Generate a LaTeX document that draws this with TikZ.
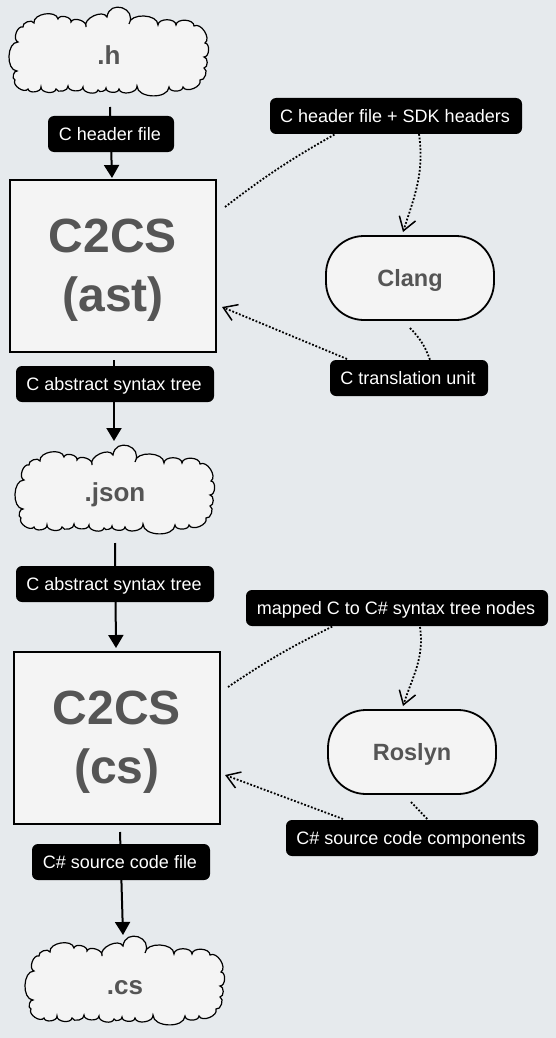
\documentclass[tikz,border=0pt]{standalone}
\usepackage{fontspec}
\setmainfont{Liberation Sans}
\usetikzlibrary{arrows.meta}
\definecolor{pagebg}{HTML}{E6EAED}
\definecolor{shapefill}{HTML}{F4F4F4}
\definecolor{shapetext}{HTML}{555555}
\tikzset{
	tag/.style={fill=black,text=white,rounded corners=6pt,minimum height=36pt,inner xsep=0pt,inner ysep=0pt,text height=13pt,text depth=0pt,font=\fontsize{18}{20}\selectfont,execute at end node={\kern2pt}},
	box/.style={draw=black,line width=1.8pt,fill=shapefill,minimum width=206pt,minimum height=172pt},
	boxtext/.style={text=shapetext,align=center,font=\fontsize{48}{59}\selectfont\bfseries},
	pill/.style={draw=black,line width=1.8pt,fill=shapefill,text=shapetext,rounded corners=38pt,minimum width=168pt,minimum height=84pt,text height=16pt,text depth=0pt,font=\fontsize{23.5}{26}\selectfont\bfseries},
	blobtext/.style={text=shapetext,font=\fontsize{26}{28}\selectfont\bfseries},
	flow/.style={line width=2pt,-{Triangle[length=13pt,width=15pt]}},
	hint/.style={line width=1.8pt,dash pattern=on 1.8pt off 1.8pt},
	hintarrow/.style={hint,-{Straight Barb[length=13pt,width=17pt,line width=1.5pt]}},
	blob/.pic={
		\draw[line width=1.2pt,fill=shapefill,bend left=88] (-24,-26) to (-3,-36) to[bend left=100,looseness=2] (19,-29) to (48,-28) to (66,-28) to (84,-27) to (95,-10) to (94,4) to (94,15) to (90,27) to (73,34) to (59,34) to (27,33) to (9,36) to (-4,35) to (-12,37) to (-27,34) to (-42,33) to (-54,36) to (-69,34) to (-82,36) to (-95,27) to (-93,18) to (-92,-11) to (-87,-26) to (-76,-30) to (-52,-34) to (-39,-31) to cycle;
	}
}
\begin{document}
\begin{tikzpicture}[x=1pt,y=-1pt]
	\fill[pagebg] (0,0) rectangle (556,1038);
	\useasboundingbox (0,0) rectangle (556,1038);
	\coordinate (h1) at (110,107);
	\coordinate (h2) at (112,178);
	\coordinate (a1) at (114,360);
	\coordinate (a2) at (114,441);
	\coordinate (j1) at (115,543);
	\coordinate (j2) at (116,648);
	\coordinate (c1) at (120,832);
	\coordinate (c2) at (123,935);
	\draw[flow] (h1) -- (h2);
	\draw[flow] (a1) -- (a2);
	\draw[flow] (j1) -- (j2);
	\draw[flow] (c1) -- (c2);
	\pic at (110,53) {blob};
	\pic at (116,491) {blob};
	\pic at (126,982) {blob};
	\node[blobtext] (h) at (109,55) {.h};
	\node[blobtext] (json) at (115,495) {.json};
	\node[blobtext] (cs) at (125,988) {.cs};
	\node[box] (ast) at (113,266) {};
	\node[boxtext] (asttext) at (113,270) {C2CS\\(ast)};
	\node[box] (csbox) at (117,738) {};
	\node[boxtext] (cstext) at (117,742) {C2CS\\(cs)};
	\node[pill] (clang) at (410,278) {Clang};
	\node[pill] (roslyn) at (412,752) {Roslyn};
	\node[tag,minimum width=126pt] (hfile) at (111,134) {C header file};
	\node[tag,minimum width=252pt] (sdk) at (396,116) {C header file + SDK headers};
	\node[tag,minimum width=158pt] (unit) at (409,378) {C translation unit};
	\node[tag,minimum width=198pt] (tree) at (115,384) {C abstract syntax tree};
	\node[tag,minimum width=198pt] (tree2) at (115,584) {C abstract syntax tree};
	\node[tag,minimum width=302pt] (mapped) at (397,608) {mapped C to C\# syntax tree nodes};
	\node[tag,minimum width=252pt] (parts) at (412,838) {C\# source code components};
	\node[tag,minimum width=178pt] (csfile) at (121,862) {C\# source code file};
	% dotted calls on the right
	\coordinate (s1) at (225,207);
	\coordinate (s2) at (419,134);
	\coordinate (s3) at (403,232);
	\coordinate (u1) at (410,328);
	\coordinate (u2) at (347,359);
	\coordinate (u3) at (222,307);
	\coordinate (m1) at (228,687);
	\coordinate (m2) at (420,627);
	\coordinate (m3) at (403,706);
	\coordinate (r1) at (411,802);
	\coordinate (r2) at (343,819);
	\coordinate (r3) at (225,775);
	\draw[hint] (s1) to[bend left=4] (sdk.south west -| 335,134);
	\draw[hintarrow] (s2) to[out=-82,in=72] (s3);
	\draw[hint] (u1) to[bend left=12] (unit.north -| 430,360);
	\draw[hintarrow] (u2) -- (u3);
	\draw[hint] (m1) to[bend left=4] (mapped.south west -| 333,626);
	\draw[hintarrow] (m2) to[out=-82,in=72] (m3);
	\draw[hint] (r1) -- (parts.north -| 428,820);
	\draw[hintarrow] (r2) -- (r3);
\end{tikzpicture}
\end{document}
